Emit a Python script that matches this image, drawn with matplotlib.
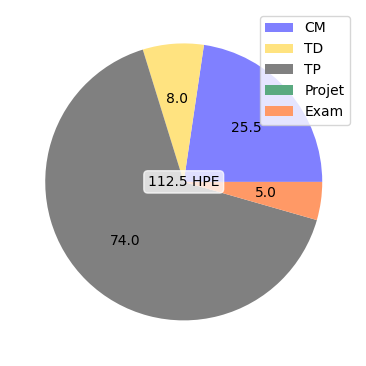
import matplotlib
matplotlib.use("Agg")
import matplotlib.pyplot as plt

# Hours per teaching type
labels = ["CM", "TD", "TP", "Projet", "Exam"]
hours = [25.5, 8.0, 74.0, 0.0, 5.0]
colors = ["#8080ff", "#ffe380", "#808080", "#5aaa80", "#ff9966"]
total_label = "112.5 HPE"


def fmt_value(pct):
    # show the hour value instead of the percentage, hide empty slices
    val = pct * sum(hours) / 100.0
    return "{:.1f}".format(val) if val > 0.05 else ""


fig = plt.figure(figsize=(3.66, 3.66), dpi=100)
ax = fig.add_axes([0.029, 0.030, 0.946, 0.946])

ax.pie(hours, colors=colors, autopct=fmt_value, startangle=0,
       textprops={"fontsize": 10})
ax.legend(labels, loc="upper right", fontsize=10)
ax.text(0, 0, total_label, ha="center", va="center", fontsize=10,
        bbox=dict(boxstyle="round", facecolor="white", edgecolor="white", alpha=0.75))
ax.set_aspect("equal")

plt.savefig("out.png", dpi=100)
